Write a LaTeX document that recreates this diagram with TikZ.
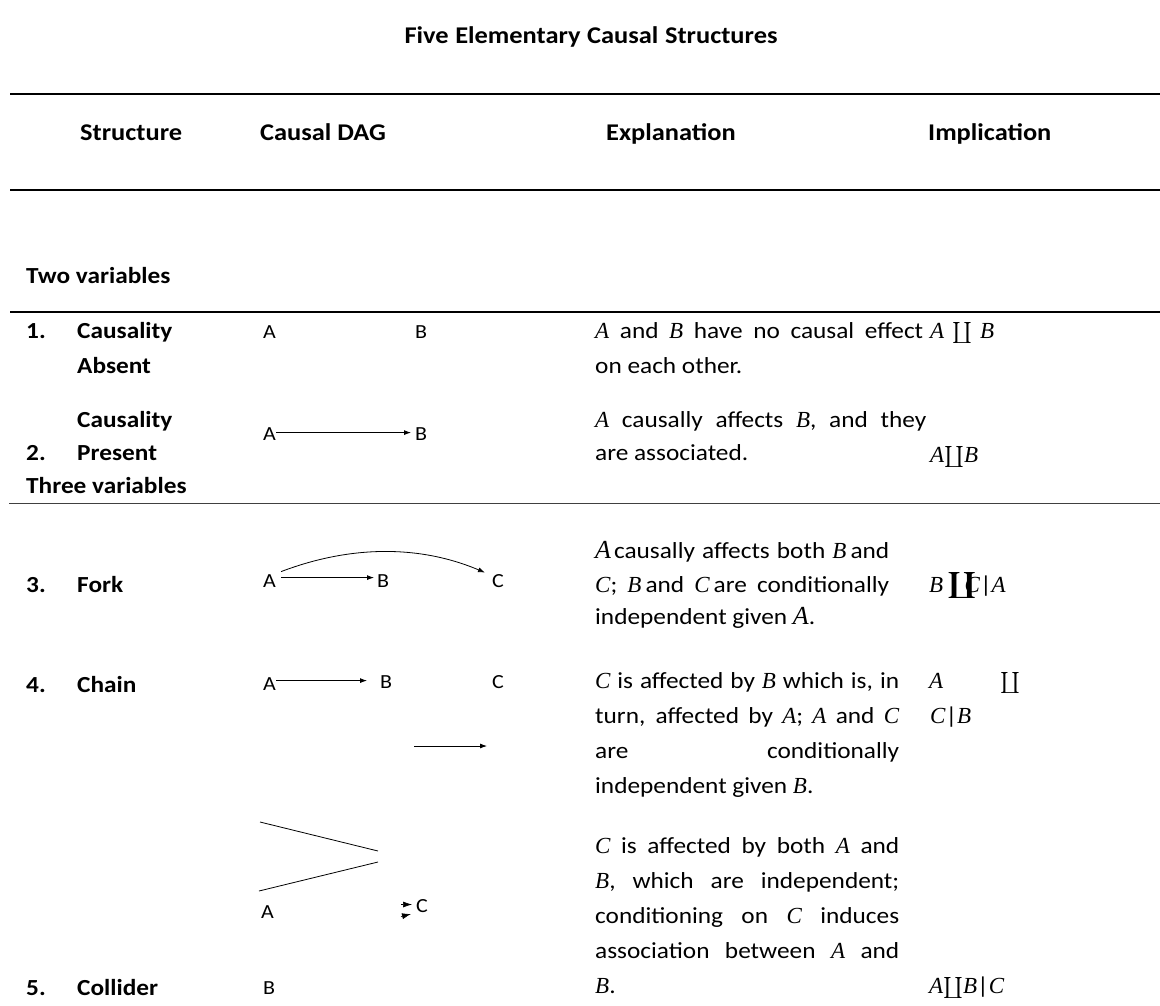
\RequirePackage{fix-cm}
\documentclass[tikz,border=0pt]{standalone}
\usepackage{graphicx}
\usepackage{fontspec}
\setmainfont{Carlito}[FakeStretch=1.1]
\newfontfamily\serifm{Liberation Serif}
\usetikzlibrary{arrows.meta}
\newcommand\mv[1]{{\serifm\itshape #1}}
\newcommand\cop{\scalebox{2.1}{\fontsize{10}{12}\selectfont$\coprod$}}
\newcommand\bcop{\scalebox{2.9}[2.6]{\fontsize{10}{12}\selectfont\rlap{$\coprod$}\kern0.35pt\rlap{$\coprod$}\kern0.35pt$\coprod$}}
\begin{document}
\begin{tikzpicture}[x=1pt,y=-1pt,
  txt/.style={anchor=base west,inner sep=0pt,font=\fontsize{23}{27}\selectfont},
  lbl/.style={anchor=base west,inner sep=0pt,font=\bfseries\fontsize{23}{27}\selectfont},
  hd/.style={anchor=base west,inner sep=0pt,font=\bfseries\fontsize{24}{28}\selectfont},
  dag/.style={anchor=base west,inner sep=0pt,font=\fontsize{20}{24}\selectfont},
  arr/.style={-{Latex[length=7pt,width=5pt]},line width=0.8pt},
  tip/.style={-{Latex[length=9pt,width=6pt]},line width=0.6pt},
  rulethick/.style={line width=2pt},
  rulethin/.style={line width=1.3pt}]
\useasboundingbox (0,0) rectangle (1160,1005);
% title
\node[anchor=base,inner sep=0pt,font=\bfseries\fontsize{24}{28}\selectfont] (title) at (591,43)
  {\makebox[373pt][s]{Five Elementary Causal Structures}};
% rules
\draw[rulethick] (10,94) -- (1160,94);
\draw[rulethick] (10,190) -- (1160,190);
\draw[rulethin] (10,312) -- (1160,312);
\draw[line width=1pt,black!75] (9,503) -- (1160,503);
% headers
\node[hd] (hS) at (80,140) {Structure};
\node[hd] (hD) at (260,140) {Causal DAG};
\node[hd] (hE) at (606,140) {Explanation};
\node[hd] (hI) at (928,140) {Implication};
% group labels
\node[lbl] (g2) at (26,283) {Two variables};
\node[lbl] (g3) at (26,493) {Three variables};
% row labels
\node[lbl] (n1) at (26,338) {1.};
\node[lbl] (s1a) at (77,338) {Causality};
\node[lbl] (s1b) at (77,373) {Absent};
\node[lbl] (s2a) at (77,427) {Causality};
\node[lbl] (n2) at (26,460) {2.};
\node[lbl] (s2b) at (77,460) {Present};
\node[lbl] (n3) at (26,592) {3.};
\node[lbl] (s3) at (77,592) {Fork};
\node[lbl] (n4) at (26,692) {4.};
\node[lbl] (s4) at (77,692) {Chain};
\node[lbl] (n5) at (26,995) {5.};
\node[lbl] (s5) at (77,995) {Collider};
% DAG row 1
\node[dag] (aA) at (263,338) {A};
\node[dag] (aB) at (415,338) {B};
% DAG row 2
\node[dag] (pA) at (263,440) {A};
\node[dag] (pB) at (415,440) {B};
\draw[arr] ([yshift=1pt]pA.east) -- ([xshift=-4pt,yshift=1pt]pB.west);
% DAG row 3 fork
\node[dag] (fA) at (263,587) {A};
\node[dag] (fB) at (377,587) {B};
\node[dag] (fC) at (492,587) {C};
\draw[arr] ([xshift=5pt,yshift=3pt]fA.east) -- ([xshift=-3pt,yshift=3pt]fB.west);
\draw[arr] ([xshift=5pt,yshift=9pt]fA.east) .. controls (351,545) and (420,545) .. ([xshift=-7pt,yshift=8pt]fC.west);
% DAG row 4 chain
\node[dag] (cA) at (263,690) {A};
\node[dag] (cB) at (380,688) {B};
\node[dag] (cC) at (492,688) {C};
\coordinate (cAo) at ([yshift=3pt]cA.east);
\draw[arr] (cAo) -- ([xshift=-13pt]cAo -| cB.west);
\coordinate (s1) at (414,746);
\coordinate (s2) at (487,746);
\draw[arr] (s1) -- (s2);
% DAG row 5 collider
\coordinate (l1a) at (260,822);
\coordinate (l1b) at (378,851);
\coordinate (l2a) at (259,891);
\coordinate (l2b) at (378,862);
\draw[line width=0.8pt] (l1a) -- (l1b);
\draw[line width=0.8pt] (l2a) -- (l2b);
\node[dag] (kA) at (261,918) {A};
\node[dag] (kC) at (416,912) {C};
\node[dag] (kB) at (263,994) {B};
\coordinate (t1a) at (401,904.5);
\coordinate (t1b) at (412,904.5);
\coordinate (t2a) at (401,916.5);
\coordinate (t2b) at (411,914);
\draw[tip] (t1a) -- (t1b);
\draw[tip] (t2a) -- (t2b);
% explanations
\node[txt] (e1a) at (595,338) {\makebox[328pt][s]{\mv{A} and \mv{B} have no causal effect}};
\node[txt] (e1b) at (595,373) {on each other.};
\node[txt] (e2a) at (595,427) {\makebox[331pt][s]{\mv{A} causally affects \mv{B}, and they}};
\node[txt] (e2b) at (595,460) {are associated.};
\node[txt] (e3a) at (595,558) {\makebox[294pt][s]{{\fontsize{26}{28}\selectfont\mv{A}}\kern3pt causally affects both \mv{B}\kern4pt and}};
\node[txt] (e3b) at (595,592) {\makebox[294pt][s]{\mv{C}; \mv{B}\kern4pt and \mv{C}\kern4pt are conditionally}};
\node[txt] (e3c) at (595,624) {independent given {\fontsize{26}{28}\selectfont\mv{A}}.};
\node[txt] (e4a) at (595,688) {\makebox[304pt][s]{\mv{C} is affected by \mv{B} which is, in}};
\node[txt] (e4b) at (595,723) {\makebox[304pt][s]{turn, affected by \mv{A}; \mv{A} and \mv{C}}};
\node[txt] (e4c) at (595,758) {\makebox[304pt][s]{are conditionally}};
\node[txt] (e4d) at (595,793) {independent given \mv{B}.};
\node[txt] (e5a) at (595,853) {\makebox[304pt][s]{\mv{C} is affected by both \mv{A} and}};
\node[txt] (e5b) at (595,888) {\makebox[304pt][s]{\mv{B}, which are independent;}};
\node[txt] (e5c) at (595,923) {\makebox[304pt][s]{conditioning on \mv{C} induces}};
\node[txt] (e5d) at (595,958) {\makebox[304pt][s]{association between \mv{A} and}};
\node[txt] (e5e) at (595,993) {\mv{B}.};
% implications
\node[txt] (i1) at (930,338) {\mv{A}\kern8pt\cop\kern8pt\mv{B}};
\node[txt] (i2) at (930,462) {\mv{A}\cop\mv{B}};
\node[txt] (i3) at (929,592) {\mv{B}\kern4pt\bcop\kern-12pt\mv{C}|\mv{A}};
\node[txt] (i4a) at (929,688) {\mv{A}};
\node[txt] (i4b) at (1000,688) {\cop};
\node[txt] (i4c) at (930,723) {\mv{C}|\mv{B}};
\node[txt] (i5) at (929,993) {\mv{A}\cop\mv{B}|\mv{C}};
\end{tikzpicture}
\end{document}
